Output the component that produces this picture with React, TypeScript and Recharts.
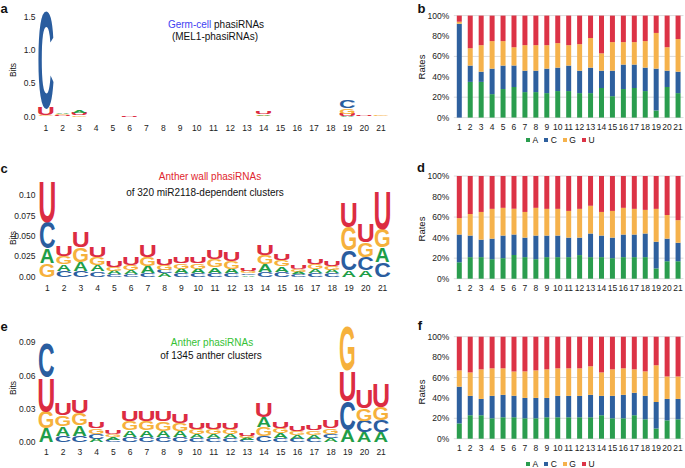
import React from 'react';
import { Bar, BarChart, CartesianGrid, XAxis, YAxis } from 'recharts';

const W = 685;
const H = 468;
const FONT = '"Liberation Sans", Arial, Helvetica, sans-serif';

const positions = ['1', '2', '3', '4', '5', '6', '7', '8', '9', '10', '11', '12', '13', '14', '15', '16', '17', '18', '19', '20', '21'];

// panel a: germ-cell logo (bits per letter)
const logoA_A = [0.005, 0.025, 0.045, 0.002, 0.001, 0.001, 0.001, 0.001, 0.001, 0.001, 0.001, 0.001, 0.001, 0.025, 0.001, 0.001, 0.001, 0.001, 0.01, 0.005, 0.001];
const logoA_C = [1.485, 0.005, 0.003, 0.001, 0.001, 0.001, 0.001, 0.001, 0.001, 0.001, 0.001, 0.001, 0.001, 0.005, 0.001, 0.001, 0.001, 0.001, 0.11, 0.001, 0.001];
const logoA_G = [0.015, 0.02, 0.02, 0.001, 0.001, 0.001, 0.001, 0.001, 0.001, 0.001, 0.001, 0.001, 0.001, 0.01, 0.001, 0.001, 0.001, 0.001, 0.085, 0.002, 0.01];
const logoA_U = [0.115, 0.015, 0.03, 0.002, 0.001, 0.012, 0.001, 0.001, 0.001, 0.001, 0.001, 0.001, 0.001, 0.03, 0.001, 0.001, 0.001, 0.001, 0.035, 0.015, 0.003];

// panel c: anther wall logo
const logoC_A = [0.0184, 0.0082, 0.011, 0.0074, 0.004, 0.005, 0.009, 0.004, 0.006, 0.006, 0.007, 0.006, 0.002, 0.01, 0.007, 0.0032, 0.0055, 0.0045, 0.0082, 0.0082, 0.0185];
const logoC_C = [0.0328, 0.0074, 0.0074, 0.007, 0.0035, 0.003, 0.004, 0.0045, 0.004, 0.004, 0.005, 0.004, 0.002, 0.006, 0.006, 0.003, 0.004, 0.004, 0.0246, 0.0164, 0.018];
const logoC_G = [0.0164, 0.0098, 0.0185, 0.0102, 0.005, 0.006, 0.011, 0.006, 0.007, 0.007, 0.01, 0.009, 0.003, 0.0105, 0.0075, 0.0035, 0.006, 0.005, 0.0287, 0.0184, 0.0225];
const logoC_U = [0.0512, 0.0135, 0.019, 0.0123, 0.008, 0.009, 0.015, 0.008, 0.008, 0.008, 0.012, 0.011, 0.0032, 0.013, 0.0085, 0.0045, 0.007, 0.0065, 0.0307, 0.0225, 0.047];

// panel e: anther logo
const logoE_A = [0.0126, 0.0087, 0.0096, 0.003, 0.0025, 0.0055, 0.0058, 0.0056, 0.0054, 0.0038, 0.0038, 0.0038, 0.002, 0.0095, 0.0042, 0.0035, 0.0038, 0.0038, 0.011, 0.009, 0.009];
const logoE_C = [0.0315, 0.006, 0.006, 0.0045, 0.002, 0.0052, 0.0052, 0.005, 0.005, 0.0035, 0.0035, 0.0035, 0.0018, 0.0055, 0.0038, 0.003, 0.003, 0.004, 0.026, 0.0105, 0.0108];
const logoE_G = [0.015, 0.0099, 0.0105, 0.005, 0.0028, 0.0084, 0.0082, 0.0083, 0.0068, 0.0045, 0.0045, 0.0045, 0.0022, 0.008, 0.005, 0.004, 0.004, 0.005, 0.0405, 0.011, 0.012];
const logoE_U = [0.031, 0.0105, 0.012, 0.006, 0.003, 0.0092, 0.009, 0.009, 0.008, 0.006, 0.006, 0.006, 0.0025, 0.0125, 0.0055, 0.0045, 0.0048, 0.0075, 0.028, 0.0165, 0.021];

// panel b rates (%)
const ratesB_A = [0, 35, 35, 23, 28, 30, 25, 25, 24, 26, 26, 24, 24, 29, 21, 28, 29, 26, 7, 30, 24];
const ratesB_C = [92, 16, 10, 25, 23, 21, 21, 21, 24, 23, 25, 22, 25, 17, 25, 24, 23, 23, 41, 16, 21];
const ratesB_G = [2, 17, 26, 27, 24, 18, 25, 25, 23, 24, 20, 26, 29, 17, 28, 22, 22, 26, 35, 23, 32];
const ratesB_U = [6, 32, 29, 25, 25, 31, 29, 29, 29, 27, 29, 28, 22, 37, 26, 26, 26, 25, 17, 31, 23];

// panel d rates (%)
const ratesD_A = [16, 21, 21, 19, 20, 23, 21, 19, 21, 21, 21, 23, 21, 21, 20, 21, 21, 21, 10, 17, 17];
const ratesD_C = [27, 21, 17, 20, 22, 20, 19, 23, 21, 21, 19, 17, 23, 21, 20, 22, 22, 23, 26, 22, 18];
const ratesD_G = [16, 21, 27, 29, 27, 25, 25, 27, 26, 26, 26, 28, 27, 23, 26, 26, 25, 23, 32, 23, 22];
const ratesD_U = [41, 37, 35, 32, 31, 32, 35, 31, 32, 32, 34, 32, 29, 35, 34, 31, 32, 33, 32, 38, 43];

// panel f rates (%)
const ratesF_A = [15, 23, 23, 20, 21, 21, 20, 20, 21, 21, 21, 21, 21, 23, 20, 20, 23, 19, 10, 18, 19];
const ratesF_C = [36, 19, 16, 22, 22, 21, 20, 20, 19, 21, 21, 21, 22, 19, 22, 23, 22, 23, 26, 21, 20];
const ratesF_G = [16, 23, 29, 27, 26, 24, 26, 27, 28, 27, 27, 27, 28, 23, 26, 26, 23, 24, 36, 22, 22];
const ratesF_U = [33, 35, 32, 31, 31, 34, 34, 33, 32, 31, 31, 31, 29, 35, 32, 31, 32, 34, 28, 39, 39];

const LETTER_COLORS: Record<string, string> = {
  A: '#1f9e48',
  C: '#2a5d9f',
  G: '#f6b13c',
  U: '#dc2c42',
};

const BAR_COLORS: Record<string, string> = {
  A: '#2a9d4e',
  C: '#2e609e',
  G: '#f5b24c',
  U: '#dc3346',
};

// approx ink width of bold glyphs (em), a bit under so letters fill the slot
const INK: Record<string, number> = { A: 0.69, C: 0.61, G: 0.65, U: 0.56 };

// sort letters at each position so the biggest sits on top
function logoRows(a: number[], c: number[], g: number[], u: number[]) {
  return positions.map((pos, i) => {
    const items: [string, number][] = [
      ['A', a[i]],
      ['C', c[i]],
      ['G', g[i]],
      ['U', u[i]],
    ];
    items.sort((p, q) => p[1] - q[1]);
    const row: Record<string, unknown> = { pos };
    items.forEach(([l, v], k) => {
      row['v' + k] = v;
      row['l' + k] = l;
    });
    return row;
  });
}

function rateRows(a: number[], c: number[], g: number[], u: number[]) {
  return positions.map((pos, i) => ({ pos, A: a[i], C: c[i], G: g[i], U: u[i] }));
}

const letterShape = (rank: number) => (props: any) => {
  const { x, y, width, height, payload } = props;
  const letter = payload ? payload['l' + rank] : null;
  if (!letter || !(height > 0.3)) return <g />;
  const sx = width / (INK[letter] * 100);
  const sy = height / 72;
  return (
    <text
      transform={`translate(${x + width / 2},${y + height}) scale(${sx},${sy})`}
      fontSize={100}
      fontFamily={FONT}
      fontWeight="bold"
      textAnchor="middle"
      fill={LETTER_COLORS[letter]}
    >
      {letter}
    </text>
  );
};

const tickStyle = { fontSize: 8.5, fill: '#222', fontFamily: FONT };

interface LogoProps {
  rows: Record<string, unknown>[];
  left: number;
  right: number;
  top: number;
  bottom: number;
  max: number;
  ticks: number[];
  fmt: (v: number) => string;
  xMargin: number;
}

const Logo = ({ rows, left, right, top, bottom, max, ticks, fmt, xMargin }: LogoProps) => (
  <div style={{ position: 'absolute', left: 0, top: 0 }}>
    <BarChart
      width={W}
      height={H}
      data={rows}
      barCategoryGap="7%"
      margin={{ top, bottom: H - bottom - 20, left: left - 30, right: W - right }}
    >
      <XAxis
        dataKey="pos"
        height={20}
        interval={0}
        tickLine={false}
        axisLine={false}
        tickSize={0}
        tickMargin={xMargin}
        tick={tickStyle}
      />
      <YAxis
        width={30}
        domain={[0, max]}
        ticks={ticks}
        tickFormatter={fmt}
        tickLine={false}
        axisLine={false}
        tickSize={0}
        tickMargin={left - 35.5}
        tick={tickStyle}
      />
      {[0, 1, 2, 3].map((k) => (
        <Bar key={k} dataKey={'v' + k} stackId="s" shape={letterShape(k)} isAnimationActive={false} />
      ))}
    </BarChart>
  </div>
);

const PLOT_L = 453.8;
const PLOT_R = 683.5;

const Rates = ({ rows, top, bottom }: { rows: Record<string, unknown>[]; top: number; bottom: number }) => (
  <div style={{ position: 'absolute', left: 0, top: 0 }}>
    <BarChart
      width={W}
      height={H}
      data={rows}
      margin={{ top, bottom: H - bottom - 20, left: PLOT_L - 40, right: W - PLOT_R }}
    >
      <CartesianGrid vertical={false} stroke="#dcdcdc" />
      <XAxis
        dataKey="pos"
        height={20}
        interval={0}
        tickLine={false}
        axisLine={false}
        tickSize={0}
        tickMargin={6.5}
        tick={tickStyle}
      />
      <YAxis
        width={40}
        domain={[0, 100]}
        ticks={[0, 20, 40, 60, 80, 100]}
        tickFormatter={(v) => `${v}%`}
        tickLine={false}
        axisLine={false}
        tickSize={0}
        tickMargin={4.5}
        tick={tickStyle}
      />
      {['A', 'C', 'G', 'U'].map((k) => (
        <Bar key={k} dataKey={k} stackId="r" fill={BAR_COLORS[k]} barSize={5} isAnimationActive={false} />
      ))}
    </BarChart>
  </div>
);

const Txt = ({ x, y, size, children, bold, rotate }: any) => (
  <div
    style={{
      position: 'absolute',
      left: x,
      top: y,
      transform: `translate(-50%,-50%)${rotate ? ' rotate(-90deg)' : ''}`,
      fontSize: size,
      fontWeight: bold ? 'bold' : 'normal',
      fontFamily: FONT,
      whiteSpace: 'nowrap',
      lineHeight: 1,
      color: '#111',
    }}
  >
    {children}
  </div>
);

const LegendRow = ({ y }: { y: number }) => (
  <div
    style={{
      position: 'absolute',
      left: 526,
      top: y - 5,
      display: 'flex',
      alignItems: 'center',
      fontFamily: FONT,
      fontSize: 8.5,
      lineHeight: '10px',
      color: '#111',
    }}
  >
    {['A', 'C', 'G', 'U'].map((k) => (
      <div key={k} style={{ display: 'flex', alignItems: 'center', marginRight: 6 }}>
        <span style={{ width: 4, height: 4, background: BAR_COLORS[k], marginRight: 2.5, display: 'inline-block' }} />
        <span>{k}</span>
      </div>
    ))}
  </div>
);

const cFmt = (v: number) => {
  if (v === 0) return '0.00';
  if (v === 0.1) return '0.10';
  return v.toFixed(3);
};

export default function App() {
  return (
    <div style={{ position: 'absolute', left: 0, top: 0, width: W, height: H, background: '#fff', overflow: 'hidden' }}>
      <Logo
        rows={logoRows(logoA_A, logoA_C, logoA_G, logoA_U)}
        left={37.6}
        right={389.4}
        top={4.8}
        bottom={116.7}
        max={1.68}
        ticks={[0, 0.5, 1, 1.5]}
        fmt={(v) => v.toFixed(1)}
        xMargin={8.2}
      />
      <Logo
        rows={logoRows(logoC_A, logoC_C, logoC_G, logoC_U)}
        left={39}
        right={391}
        top={179.1}
        bottom={276.7}
        max={0.12}
        ticks={[0, 0.025, 0.05, 0.075, 0.1]}
        fmt={cFmt}
        xMargin={8.5}
      />
      <Logo
        rows={logoRows(logoE_A, logoE_C, logoE_G, logoE_U)}
        left={38}
        right={389.5}
        top={322.3}
        bottom={442.3}
        max={0.108}
        ticks={[0, 0.03, 0.06, 0.09]}
        fmt={(v) => v.toFixed(2)}
        xMargin={7}
      />
      <Rates rows={rateRows(ratesB_A, ratesB_C, ratesB_G, ratesB_U)} top={15.6} bottom={117.6} />
      <Rates rows={rateRows(ratesD_A, ratesD_C, ratesD_G, ratesD_U)} top={176} bottom={278.7} />
      <Rates rows={rateRows(ratesF_A, ratesF_C, ratesF_G, ratesF_U)} top={336.7} bottom={438.7} />

      <LegendRow y={140} />
      <LegendRow y={464} />

      {/* panel letters */}
      <Txt x={4} y={8} size={13} bold>a</Txt>
      <Txt x={421.5} y={8} size={13} bold>b</Txt>
      <Txt x={4} y={168} size={13} bold>c</Txt>
      <Txt x={421} y={167} size={13} bold>d</Txt>
      <Txt x={4} y={326} size={13} bold>e</Txt>
      <Txt x={420} y={325} size={13} bold>f</Txt>

      {/* axis titles */}
      <Txt x={12.5} y={70} size={8.5} rotate>Bits</Txt>
      <Txt x={12.5} y={238} size={8.5} rotate>Bits</Txt>
      <Txt x={12.5} y={388} size={8.5} rotate>Bits</Txt>
      <Txt x={422} y={67} size={9.5} rotate>Rates</Txt>
      <Txt x={422} y={229} size={9.5} rotate>Rates</Txt>
      <Txt x={422} y={392} size={9.5} rotate>Rates</Txt>

      {/* logo titles */}
      <Txt x={216} y={24.5} size={10}>
        <span style={{ color: '#3f3ff2' }}>Germ-cell</span> phasiRNAs
      </Txt>
      <Txt x={215} y={36.5} size={10}>(MEL1-phasiRNAs)</Txt>
      <Txt x={210} y={176.5} size={10}>
        <span style={{ color: '#e0262e' }}>Anther wall phasiRNAs</span>
      </Txt>
      <Txt x={205} y={193} size={10}>of 320 miR2118-dependent clusters</Txt>
      <Txt x={212} y={342.5} size={10}>
        <span style={{ color: '#35c235' }}>Anther phasiRNAs</span>
      </Txt>
      <Txt x={211} y={356} size={10}>of 1345 anther clusters</Txt>
    </div>
  );
}
